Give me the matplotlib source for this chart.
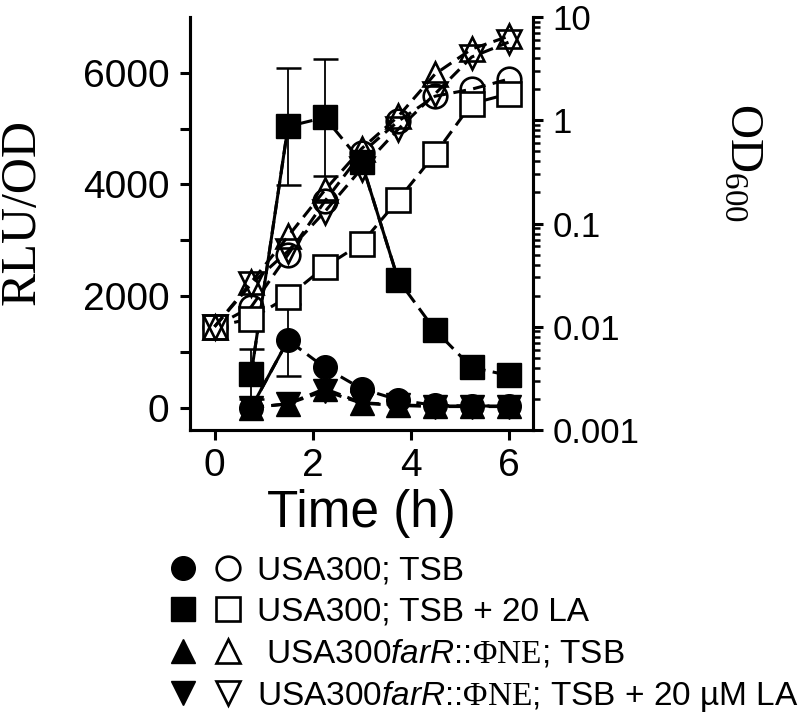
import matplotlib
matplotlib.use("Agg")
import matplotlib.pyplot as plt
import numpy as np
from matplotlib.lines import Line2D
from matplotlib.legend_handler import HandlerTuple

plt.rcParams['font.family'] = ['Liberation Sans', 'DejaVu Sans']
plt.rcParams['mathtext.fontset'] = 'custom'
plt.rcParams['mathtext.rm'] = 'Liberation Serif'
plt.rcParams['mathtext.it'] = 'Liberation Sans:italic'

# time points (h)
time_od = [0, 0.75, 1.5, 2.25, 3, 3.75, 4.5, 5.25, 6]
time_rlu = [0.75, 1.5, 2.25, 3, 3.75, 4.5, 5.25, 6]

# RLU/OD (left axis, filled symbols)
rlu_tsb = [0, 1210, 720, 340, 140, 40, 30, 30]
rlu_tsb_la = [610, 5040, 5200, 4400, 2290, 1390, 720, 580]
rlu_far_tsb = [0, 70, 340, 90, 50, 30, 30, 30]
rlu_far_tsb_la = [0, 70, 300, 80, 40, 20, 20, 20]
err_tsb = [0, 650, 0, 0, 0, 0, 0, 0]
err_tsb_la = [450, 1050, 1050, 0, 0, 0, 0, 0]

# OD600 (right axis, open symbols)
od_tsb = [0.010, 0.0156, 0.050, 0.164, 0.48, 0.98, 1.71, 2.0, 2.5]
od_tsb_la = [0.010, 0.012, 0.0195, 0.038, 0.064, 0.17, 0.47, 1.45, 1.8]
od_far_tsb = [0.010, 0.027, 0.075, 0.21, 0.53, 1.09, 2.8, 4.9, 6.5]
od_far_tsb_la = [0.010, 0.026, 0.054, 0.13, 0.34, 0.82, 1.8, 4.1, 5.7]

left_ticks = [0, 2000, 4000, 6000]
right_ticks = [0.001, 0.01, 0.1, 1, 10]
right_labels = ['0.001', '0.01', '0.1', '1', '10']
x_ticks = [0, 2, 4, 6]

labels = ['USA300; TSB',
          'USA300; TSB + 20 LA',
          r' USA300$\mathit{farR}$::$\mathrm{\Phi NE}$; TSB',
          r'USA300$\mathit{farR}$::$\mathrm{\Phi NE}$; TSB + 20 µM LA']

MS = 17
LW = 2.2
DASH = (4.2, 2.4)

fig = plt.figure(figsize=(8, 7.15), dpi=100)
ax = fig.add_axes([0.2375, 0.3986, 0.42875, 0.5776])
ax2 = ax.twinx()

# filled symbols: RLU/OD
def filled(x, y, marker, solid_segs):
    ax.plot(x, y, color='black', lw=LW, dashes=DASH, marker=marker, ms=MS,
            mfc='black', mec='black', zorder=3)
    for i in solid_segs:
        ax.plot(x[i:i + 2], y[i:i + 2], color='black', lw=LW, zorder=2)

def errs(x, y, e):
    idx = [i for i in range(len(e)) if e[i] > 0]
    ax.errorbar([x[i] for i in idx], [y[i] for i in idx], yerr=[e[i] for i in idx],
                fmt='none', ecolor='black', elinewidth=1.3, capsize=9, capthick=1.8, zorder=2)

errs(time_rlu, rlu_tsb_la, err_tsb_la)
errs(time_rlu, rlu_tsb, err_tsb)
filled(time_rlu, rlu_far_tsb_la, 'v', [])
filled(time_rlu, rlu_far_tsb, '^', [])
filled(time_rlu, rlu_tsb, 'o', [0])
filled(time_rlu, rlu_tsb_la, 's', [0, 3])

# open symbols: OD600
def opened(y, marker, face, z):
    ax2.plot(time_od, y, color='black', lw=LW, dashes=DASH, marker=marker, ms=MS,
             mfc=face, mec='black', mew=1.9, zorder=z)

opened(od_tsb, 'o', 'none', 3)
opened(od_tsb_la, 's', 'white', 4)
opened(od_far_tsb, '^', 'none', 5)
opened(od_far_tsb_la, 'v', 'none', 5)

ax.set_xlim(-0.5, 6.5)
ax.set_ylim(-400, 7000)
ax2.set_yscale('log')
ax2.set_ylim(0.001, 10)

ax.set_xticks(x_ticks)
ax.set_yticks(left_ticks)
ax.set_yticks([1000, 3000, 5000], minor=True)
ax2.set_yticks(right_ticks)
ax2.set_yticklabels(right_labels)

for a in (ax, ax2):
    a.spines['top'].set_visible(False)
    for s in a.spines.values():
        s.set_linewidth(LW)

ax.tick_params(axis='both', which='major', direction='out', length=7, width=LW,
               labelsize=28)
ax.tick_params(axis='y', which='major', pad=8)
ax.tick_params(axis='x', which='major', pad=6)
ax.tick_params(axis='y', which='minor', direction='out', length=7, width=LW)
ax2.tick_params(axis='y', which='major', direction='out', length=7, width=LW,
                labelsize=25, pad=7)
ax2.tick_params(axis='y', which='minor', direction='out', length=5, width=1.8)

fig.text(22 / 800, 1 - 212 / 715, 'RLU/OD', rotation=90, ha='center', va='center',
         family='Liberation Serif', fontsize=36)
fig.text(742 / 800, 1 - 162 / 715, r'$\mathrm{OD_{600}}$', rotation=270,
         ha='center', va='center', fontsize=34)
fig.text(361 / 800, 1 - 513 / 715, 'Time (h)', ha='center', va='center', fontsize=37)

# legend with filled/open pairs
markers = ['o', 's', '^', 'v']
handles = []
for m in markers:
    f = Line2D([], [], ls='none', marker=m, ms=MS, mfc='black', mec='black')
    o = Line2D([], [], ls='none', marker=m, ms=MS, mfc='none', mec='black', mew=1.9)
    handles.append((f, o))
fig.legend(handles, labels, handler_map={tuple: HandlerTuple(ndivide=None, pad=0.6)},
           loc='upper left', bbox_to_anchor=(170 / 800, 1 - 556 / 715), frameon=False,
           fontsize=24, handlelength=2.1, handletextpad=0.5, labelspacing=0.29,
           borderpad=0, borderaxespad=0)

fig.savefig('out.png', dpi=100)
